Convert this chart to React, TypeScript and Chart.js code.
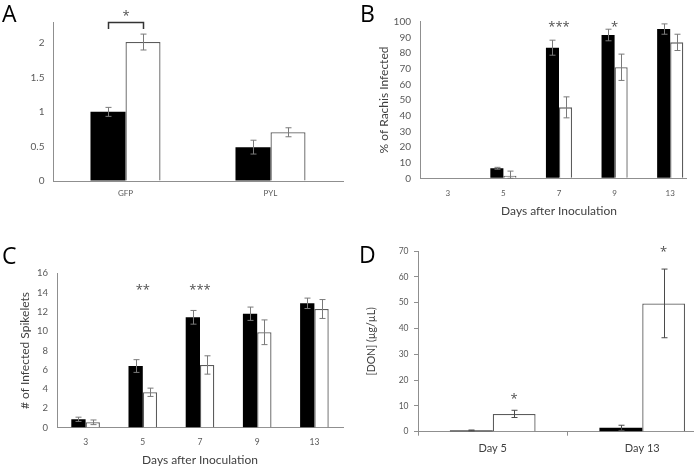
import React, { useEffect, useRef } from 'react';
import { Chart, registerables } from 'chart.js';
Chart.register(...registerables);

// ---------- Data ----------
const categoriesA = ['GFP', 'PYL'];
const blackA = [1.0, 0.49];
const blackErrA = [0.065, 0.1];
const whiteA = [2.01, 0.705];
const whiteErrA = [0.115, 0.065];

const daysBC = ['3', '5', '7', '9', '13'];
const blackB = [0, 6.4, 83.4, 91.5, 95.3];
const blackErrB = [0, 0.6, 4.8, 3.7, 3.3];
const whiteB = [0, 1.7, 45.3, 70.9, 86.8];
const whiteErrB = [0, 2.9, 6.7, 8.4, 5.2];
const starsB = ['', '', '***', '*', ''];

const blackC = [0.87, 6.39, 11.44, 11.81, 12.89];
const blackErrC = [0.22, 0.66, 0.71, 0.69, 0.54];
const whiteC = [0.56, 3.67, 6.5, 9.89, 12.3];
const whiteErrC = [0.24, 0.43, 0.95, 1.28, 0.98];
const starsC = ['', '**', '***', '', ''];

const categoriesD = ['Day 5', 'Day 13'];
const blackD = [0.5, 1.5];
const blackErrD = [0.15, 1.0];
const whiteD = [6.9, 49.7];
const whiteErrD = [1.4, 13.3];
const starsD = ['*', '*'];

// ---------- Style ----------
const FONT = 'Lato, "Open Sans", sans-serif';
const STAR_FONT = '"Open Sans", sans-serif';
const AXIS = '#8f8f8f';
const TICK = '#595959';
const TITLE = '#3f3f3f';
const ERR = '#7a7a7a';

const errorBarPlugin = {
  id: 'errorBars',
  afterDatasetsDraw(chart: any) {
    const ctx = chart.ctx;
    const ys = chart.scales.y;
    chart.data.datasets.forEach((ds: any, di: number) => {
      const errs = ds.errors;
      if (!errs) return;
      const meta = chart.getDatasetMeta(di);
      meta.data.forEach((bar: any, i: number) => {
        const e = errs[i];
        if (!e) return;
        const v = ds.data[i];
        const yt = ys.getPixelForValue(v + e);
        const yb = ys.getPixelForValue(Math.max(0, v - e));
        const x = Math.round(bar.x) + 0.5;
        ctx.save();
        ctx.strokeStyle = ds.errColor || ERR;
        ctx.lineWidth = 1;
        ctx.beginPath();
        ctx.moveTo(x, yt);
        ctx.lineTo(x, yb);
        ctx.moveTo(x - 3, yt);
        ctx.lineTo(x + 3, yt);
        ctx.moveTo(x - 3, yb);
        ctx.lineTo(x + 3, yb);
        ctx.stroke();
        ctx.restore();
      });
    });
  },
};

const annotPlugin = {
  id: 'annot',
  afterDatasetsDraw(chart: any, _args: any, opts: any) {
    const ctx = chart.ctx;
    const ys = chart.scales.y;
    const xs = chart.scales.x;
    ctx.save();
    ctx.fillStyle = '#505050';
    ctx.textAlign = 'center';
    ctx.textBaseline = 'middle';
    ctx.font = `${opts.starSize || 13}px ${STAR_FONT}`;
    (opts.stars || []).forEach((s: string, i: number) => {
      if (!s) return;
      let x = xs.getPixelForValue(i);
      if (opts.starDataset != null) x = chart.getDatasetMeta(opts.starDataset).data[i].x;
      const lvl = Array.isArray(opts.starLevel) ? opts.starLevel[i] : opts.starLevel;
      ctx.fillText(s, x, ys.getPixelForValue(lvl) + 3);
    });
    if (opts.bracket) {
      const b = opts.bracket;
      const x1 = Math.round(chart.getDatasetMeta(0).data[b.index].x) + 0.5;
      const x2 = Math.round(chart.getDatasetMeta(1).data[b.index].x) + 0.5;
      const yTop = Math.round(ys.getPixelForValue(b.top)) + 0.5;
      const yBot = ys.getPixelForValue(b.bottom);
      ctx.strokeStyle = '#333';
      ctx.lineWidth = 1.5;
      ctx.beginPath();
      ctx.moveTo(x1, yBot);
      ctx.lineTo(x1, yTop);
      ctx.lineTo(x2, yTop);
      ctx.lineTo(x2, yBot);
      ctx.stroke();
      ctx.fillText(b.text, (x1 + x2) / 2, ys.getPixelForValue(b.starLevel) + 3);
    }
    ctx.restore();
  },
};

type PanelSpec = {
  labels: string[];
  black: number[];
  blackErr: number[];
  white: number[];
  whiteErr: number[];
  max: number;
  step: number;
  catPct: number;
  padTop: number;
  padRight: number;
  yW: number;
  xH: number;
  yTickSize: number;
  yTickPad: number;
  xTickSize: number;
  xTickPad: number;
  ticksMarks: boolean;
  xTitle?: string;
  xTitleSize?: number;
  xTitlePadBottom?: number;
  yTitle?: string;
  yTitleSize?: number;
  yTitlePadTop?: number;
  annot: any;
  errColor?: string;
  xTickColor?: string;
};

function makeConfig(p: PanelSpec): any {
  return {
    type: 'bar',
    data: {
      labels: p.labels,
      datasets: [
        { data: p.black, errors: p.blackErr, errColor: p.errColor, backgroundColor: '#000', borderWidth: 0 },
        { data: p.white, errors: p.whiteErr, errColor: p.errColor, backgroundColor: '#fff', borderColor: '#5c5c5c', borderWidth: 1.3 },
      ],
    },
    options: {
      responsive: false,
      maintainAspectRatio: false,
      animation: false,
      events: [],
      layout: { padding: { top: p.padTop, right: p.padRight, left: 0, bottom: 0 } },
      datasets: { bar: { categoryPercentage: p.catPct, barPercentage: 1 } },
      plugins: { legend: { display: false }, tooltip: { enabled: false }, annot: p.annot },
      scales: {
        x: {
          grid: { display: true, drawOnChartArea: false, drawTicks: p.ticksMarks, tickLength: 4, color: AXIS },
          border: { display: true, color: AXIS, width: 1 },
          ticks: { font: { family: FONT, size: p.xTickSize }, color: p.xTickColor || TICK, padding: p.xTickPad, maxRotation: 0 },
          title: p.xTitle
            ? { display: true, text: p.xTitle, color: TITLE, font: { family: FONT, size: p.xTitleSize }, padding: { top: 0, bottom: p.xTitlePadBottom } }
            : { display: false },
          afterFit: (s: any) => { s.height = p.xH; },
        },
        y: {
          min: 0,
          max: p.max,
          grid: { display: true, drawOnChartArea: false, drawTicks: p.ticksMarks, tickLength: 4, color: AXIS },
          border: { display: true, color: AXIS, width: 1 },
          ticks: {
            stepSize: p.step,
            includeBounds: false,
            font: { family: FONT, size: p.yTickSize },
            color: TICK,
            padding: p.yTickPad,
            callback: (v: number) => String(v),
          },
          title: p.yTitle
            ? { display: true, text: p.yTitle, color: TITLE, font: { family: FONT, size: p.yTitleSize }, padding: { top: p.yTitlePadTop, bottom: 0 } }
            : { display: false },
          afterFit: (s: any) => { s.width = p.yW; },
        },
      },
    },
    plugins: [errorBarPlugin, annotPlugin],
  };
}

function Panel(props: { spec: PanelSpec; left: number; top: number; w: number; h: number; clipW: number; letter: string; lx: number; ly: number }) {
  const ref = useRef<HTMLCanvasElement>(null);
  useEffect(() => {
    if (!ref.current) return;
    const chart = new Chart(ref.current, makeConfig(props.spec));
    return () => chart.destroy();
  }, []);
  return (
    <div style={{ position: 'absolute', left: props.left, top: props.top, width: props.clipW, height: props.h, overflow: 'hidden' }}>
      <canvas ref={ref} width={props.w} height={props.h} style={{ width: props.w, height: props.h, display: 'block' }} />
      <div style={{ position: 'absolute', left: props.lx, top: props.ly, font: `400 23px "Open Sans", sans-serif`, color: '#000', lineHeight: '23px' }}>{props.letter}</div>
    </div>
  );
}

const specA: PanelSpec = {
  labels: categoriesA, black: blackA, blackErr: blackErrA, white: whiteA, whiteErr: whiteErrA,
  max: 2.3, step: 0.5, catPct: 0.483, padTop: 22, padRight: 2, yW: 53, xH: 49,
  yTickSize: 10, yTickPad: 8.5, xTickSize: 8, xTickPad: 7.5, ticksMarks: false,
  annot: { stars: [], bracket: { index: 0, top: 2.3, bottom: 2.2, text: '*', starLevel: 2.42 }, starSize: 13 },
};

const specB: PanelSpec = {
  labels: daysBC, black: blackB, blackErr: blackErrB, white: whiteB, whiteErr: whiteErrB,
  max: 100, step: 10, catPct: 0.47, padTop: 21.7, padRight: 0, yW: 75, xH: 51.7,
  yTickSize: 10, yTickPad: 9, xTickSize: 8, xTickPad: 10, ticksMarks: false,
  xTitle: 'Days after Inoculation', xTitleSize: 12, xTitlePadBottom: 12,
  yTitle: '% of Rachis Infected', yTitleSize: 12, yTitlePadTop: 32,
  annot: { stars: starsB, starLevel: 98.3, starSize: 13 },
};

const specC: PanelSpec = {
  labels: daysBC, black: blackC, blackErr: blackErrC, white: whiteC, whiteErr: whiteErrC,
  max: 16, step: 2, catPct: 0.5, padTop: 43.3, padRight: 2, yW: 57, xH: 42.3,
  yTickSize: 9.5, yTickPad: 9, xTickSize: 8.5, xTickPad: 9, ticksMarks: false,
  xTitle: 'Days after Inoculation', xTitleSize: 12, xTitlePadBottom: 3,
  yTitle: '# of Infected Spikelets', yTitleSize: 12, yTitlePadTop: 18,
  annot: { stars: starsC, starLevel: 14.6, starSize: 13 },
};

const specD: PanelSpec = {
  labels: categoriesD, black: blackD, blackErr: blackErrD, white: whiteD, whiteErr: whiteErrD,
  max: 70, step: 10, catPct: 0.573, padTop: 21, padRight: 0, yW: 73, xH: 38.3,
  yTickSize: 8.5, yTickPad: 5.5, xTickSize: 11, xTickPad: 6, ticksMarks: true,
  yTitle: '[DON] (µg/µL)', yTitleSize: 10.5, yTitlePadTop: 20.5,
  annot: { stars: starsD, starLevel: [13.9, 70.8], starDataset: 1, starSize: 13 },
  errColor: '#4a4a4a', xTickColor: '#3f3f3f',
};

export default function App() {
  return (
    <div style={{ position: 'fixed', left: 0, top: 0, width: 694, height: 470, overflow: 'hidden', background: '#fff' }}>
      <Panel spec={specA} left={0} top={0} w={345} h={230} clipW={345} letter="A" lx={2} ly={2} />
      <Panel spec={specB} left={345} top={0} w={353} h={230} clipW={342} letter="B" lx={15} ly={2} />
      <Panel spec={specC} left={0} top={230} w={345} h={240} clipW={345} letter="C" lx={2} ly={14} />
      <Panel spec={specD} left={345} top={230} w={372} h={240} clipW={349} letter="D" lx={14} ly={13} />
    </div>
  );
}
